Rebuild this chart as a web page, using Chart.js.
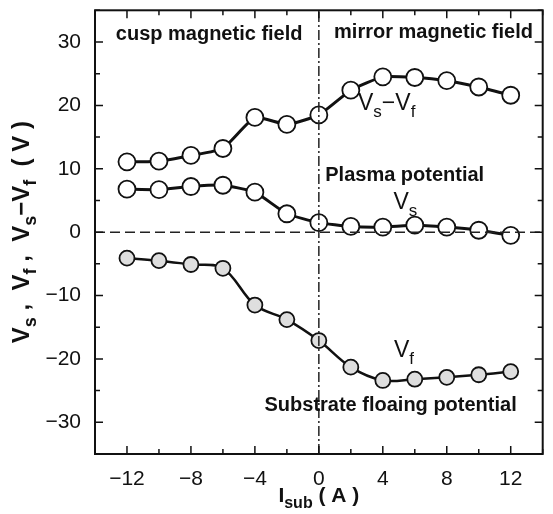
<!DOCTYPE html>
<html>
<head>
<meta charset="utf-8">
<script src="https://cdn.jsdelivr.net/npm/chart.js@4"></script>
<style>
  body { margin: 0; background: #fff; }
  #wrap { width: 553px; height: 514px; }
</style>
</head>
<body>
<div id="wrap"><canvas id="potChart" width="553" height="514"></canvas></div>
<script>
// Substrate current (A)
const currents = [-12, -10, -8, -6, -4, -2, 0, 2, 4, 6, 8, 10, 12];
// Vs - Vf (V)
const vsMinusVf = [11.1, 11.2, 12.1, 13.2, 18.1, 17.0, 18.5, 22.4, 24.5, 24.4, 23.9, 22.9, 21.6];
// Plasma potential Vs (V)
const plasmaVs = [6.8, 6.7, 7.2, 7.4, 6.3, 2.9, 1.5, 0.9, 0.8, 1.1, 0.8, 0.3, -0.5];
// Substrate floating potential Vf (V)
const floatingVf = [-4.1, -4.5, -5.1, -5.7, -11.5, -13.8, -17.1, -21.3, -23.4, -23.2, -22.9, -22.5, -22.0];
// axis ranges / tick labels
const xRange = [-14, 14];
const yRange = [-35, 35];
const xLabels = [-12, -8, -4, 0, 4, 8, 12];
const yLabels = [-30, -20, -10, 0, 10, 20, 30];

const toPoints = vals => vals.map((v, i) => ({ x: currents[i], y: v }));
const minus = v => String(v).replace('-', '\u2212');

// draw text with subscripts
function drawRich(ctx, parts, x, y, size, weight, align) {
  const subSize = Math.round(size * 0.75);
  let total = 0;
  parts.forEach(p => {
    ctx.font = weight + ' ' + (p.sub ? subSize : size) + 'px Arial';
    p.w = ctx.measureText(p.t).width;
    total += p.w;
  });
  let cx = align === 'center' ? x - total / 2 : x;
  parts.forEach(p => {
    ctx.font = weight + ' ' + (p.sub ? subSize : size) + 'px Arial';
    ctx.fillText(p.t, cx, y + (p.sub ? size * 0.3 : 0));
    cx += p.w;
  });
}

const framePlugin = {
  id: 'frame',
  afterDraw(chart) {
    const { ctx, chartArea: a, scales } = chart;
    const xs = scales.x, ys = scales.y;
    ctx.save();
    ctx.strokeStyle = '#111';
    ctx.lineWidth = 2;
    ctx.strokeRect(a.left, a.top, a.right - a.left, a.bottom - a.top);
    // inward ticks
    ctx.lineWidth = 1.5;
    ctx.beginPath();
    xs.ticks.forEach(t => {
      const px = xs.getPixelForValue(t.value);
      const len = t.value % 4 === 0 ? 8 : 5;
      ctx.moveTo(px, a.bottom); ctx.lineTo(px, a.bottom - len);
      ctx.moveTo(px, a.top); ctx.lineTo(px, a.top + len);
    });
    ys.ticks.forEach(t => {
      const py = ys.getPixelForValue(t.value);
      const len = t.value % 10 === 0 ? 8 : 5;
      ctx.moveTo(a.left, py); ctx.lineTo(a.left + len, py);
      ctx.moveTo(a.right, py); ctx.lineTo(a.right - len, py);
    });
    ctx.stroke();

    ctx.fillStyle = '#111';
    ctx.textBaseline = 'middle';
    ctx.textAlign = 'left';
    ctx.font = 'bold 20px Arial';
    ctx.fillText('cusp magnetic field', xs.getPixelForValue(-12.7), ys.getPixelForValue(31.2));
    ctx.fillText('mirror magnetic field', xs.getPixelForValue(0.95), ys.getPixelForValue(31.5));
    ctx.fillText('Plasma potential', xs.getPixelForValue(0.4), ys.getPixelForValue(9.0));
    ctx.fillText('Substrate floaing potential', xs.getPixelForValue(-3.4), ys.getPixelForValue(-27.4));

    ctx.textBaseline = 'alphabetic';
    drawRich(ctx, [{ t: 'V' }, { t: 's', sub: true }, { t: '\u2212V' }, { t: 'f', sub: true }],
      xs.getPixelForValue(2.45), ys.getPixelForValue(19.3), 23, 'normal', 'left');
    drawRich(ctx, [{ t: 'V' }, { t: 's', sub: true }],
      xs.getPixelForValue(4.67), ys.getPixelForValue(3.7), 23, 'normal', 'left');
    drawRich(ctx, [{ t: 'V' }, { t: 'f', sub: true }],
      xs.getPixelForValue(4.7), ys.getPixelForValue(-19.7), 23, 'normal', 'left');

    // x axis title
    drawRich(ctx, [{ t: 'I' }, { t: 'sub', sub: true }, { t: ' ( A )' }],
      (a.left + a.right) / 2, 502, 21, 'bold', 'center');
    // y axis title
    ctx.translate(29, (a.top + a.bottom) / 2);
    ctx.rotate(-Math.PI / 2);
    drawRich(ctx, [{ t: 'V' }, { t: 's', sub: true }, { t: ' ,  V' }, { t: 'f', sub: true },
      { t: ' ,  V' }, { t: 's', sub: true }, { t: '\u2212V' }, { t: 'f', sub: true }, { t: '  ( V )' }],
      0, 0, 24, 'bold', 'center');
    ctx.restore();
  }
};

const seriesStyle = (vals, fill, radius, width, tension) => ({
  data: toPoints(vals),
  borderColor: '#111',
  borderWidth: width,
  pointRadius: radius,
  pointBackgroundColor: fill,
  pointBorderColor: '#111',
  pointBorderWidth: 1.8,
  tension: tension
});

new Chart(document.getElementById('potChart'), {
  type: 'line',
  data: {
    datasets: [
      // zero line and field boundary (drawn on top)
      {
        data: [{ x: xRange[0], y: 0 }, { x: xRange[1], y: 0 }],
        borderColor: '#222', borderWidth: 1.5, borderDash: [10, 5], pointRadius: 0
      },
      {
        data: [{ x: 0, y: yRange[0] }, { x: 0, y: yRange[1] }],
        borderColor: '#222', borderWidth: 1.5, borderDash: [10, 3, 2, 3], pointRadius: 0
      },
      seriesStyle(vsMinusVf, '#fff', 8.5, 3, 0.15),
      seriesStyle(plasmaVs, '#fff', 8.5, 3, 0.15),
      seriesStyle(floatingVf, '#dedede', 7.5, 2.5, 0.35)
    ]
  },
  options: {
    responsive: false,
    devicePixelRatio: 1,
    animation: false,
    layout: { padding: { top: 8, right: 6, left: 0, bottom: 0 } },
    plugins: { legend: { display: false }, tooltip: { enabled: false } },
    scales: {
      x: {
        type: 'linear', min: xRange[0], max: xRange[1],
        grid: { display: false }, border: { display: false },
        ticks: {
          stepSize: 2, padding: 5, color: '#111', font: { family: 'Arial', size: 21 },
          maxRotation: 0, autoSkip: false,
          callback: v => xLabels.includes(v) ? minus(v) : ''
        },
        afterFit: s => { s.height = 60; s.paddingLeft = 0; s.paddingRight = 0; }
      },
      y: {
        type: 'linear', min: yRange[0], max: yRange[1],
        grid: { display: false }, border: { display: false },
        ticks: {
          stepSize: 5, padding: 6, color: '#111', font: { family: 'Arial', size: 21 },
          autoSkip: false,
          callback: v => yLabels.includes(v) ? minus(v) : ''
        },
        afterFit: s => { s.width = 95; s.paddingTop = 0; s.paddingBottom = 0; }
      }
    }
  },
  plugins: [framePlugin]
});
</script>
</body>
</html>
